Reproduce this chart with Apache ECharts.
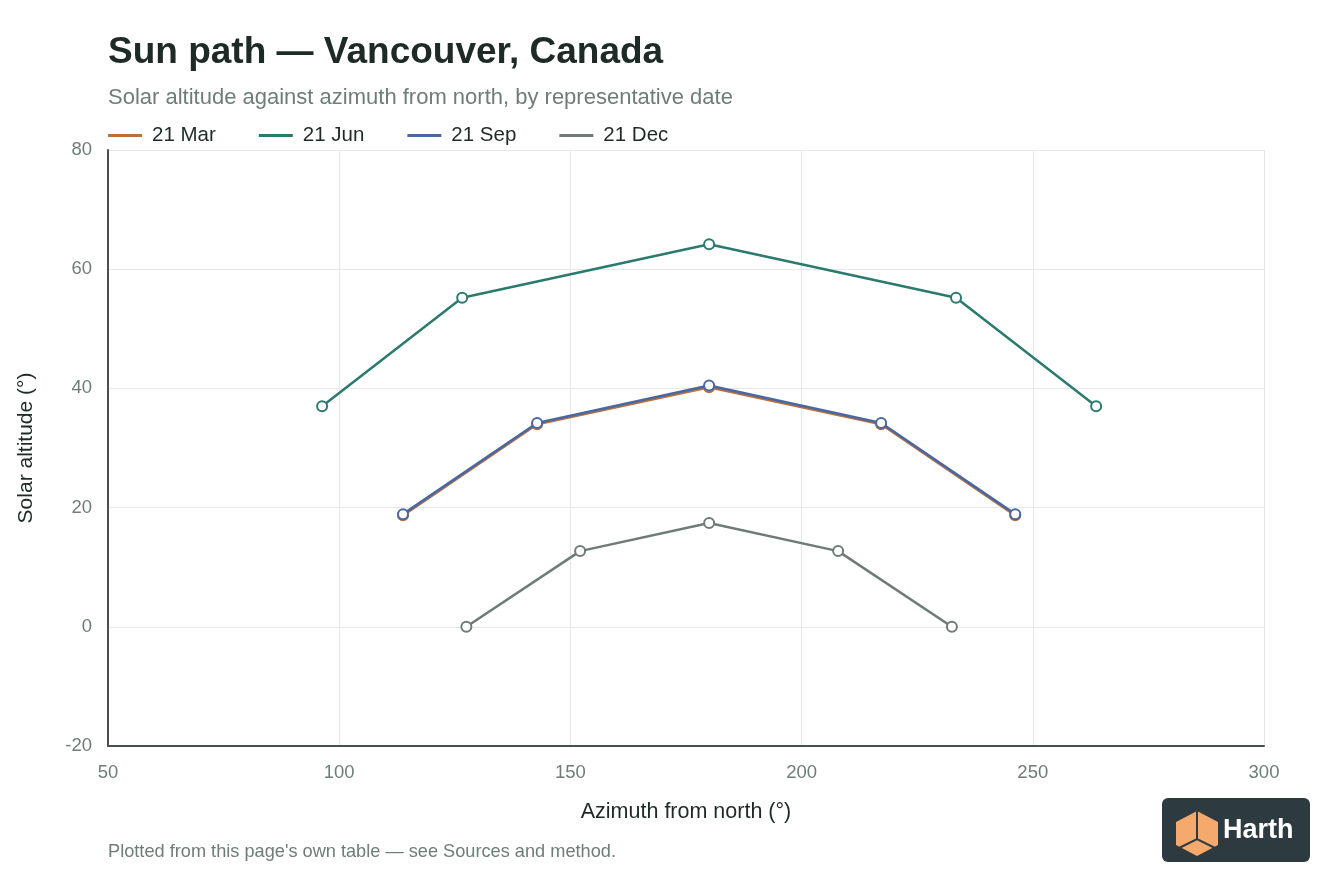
<!DOCTYPE html>
<html>
<head>
  <title>Sun path</title>
  <meta charset="UTF-8">
  <script src="https://cdn.jsdelivr.net/npm/echarts@6/dist/echarts.min.js"></script>
  <style>
    html, body { margin: 0; padding: 0; background: #fff; }
  </style>
</head>
<body>
  <div id="myChart" style="width: 1344px; height: 896px;"></div>

  <script>
    // chart data: azimuth (deg from north) and solar altitude (deg)
    const seriesNames = ['21 Mar', '21 Jun', '21 Sep', '21 Dec'];
    const marAzimuth = [113.8, 142.8, 180, 217.2, 246.2];
    const marAltitude = [18.7, 34.0, 40.2, 34.0, 18.7];
    const junAzimuth = [96.3, 126.6, 180, 233.4, 263.7];
    const junAltitude = [37.0, 55.2, 64.2, 55.2, 37.0];
    const sepAzimuth = [113.8, 142.8, 180, 217.2, 246.2];
    const sepAltitude = [18.9, 34.2, 40.5, 34.2, 18.9];
    const decAzimuth = [127.5, 152.1, 180, 207.9, 232.5];
    const decAltitude = [0.0, 12.7, 17.4, 12.7, 0.0];
    const xTicks = [50, 100, 150, 200, 250, 300];
    const yTicks = [-20, 0, 20, 40, 60, 80];

    const colors = ['#b8703f', '#2b7a6d', '#4a67a1', '#6e7b76'];
    const font = '"Liberation Sans", Arial, sans-serif';

    function pairs(xs, ys) {
      return xs.map((x, i) => [x, ys[i]]);
    }

    const chartData = [
      pairs(marAzimuth, marAltitude),
      pairs(junAzimuth, junAltitude),
      pairs(sepAzimuth, sepAltitude),
      pairs(decAzimuth, decAltitude)
    ];

    const myChart = echarts.init(document.getElementById('myChart'));

    const option = {
      backgroundColor: '#ffffff',
      animation: false,
      color: colors,
      textStyle: { fontFamily: font },
      title: {
        text: 'Sun path — Vancouver, Canada',
        subtext: 'Solar altitude against azimuth from north, by representative date',
        left: 103,
        top: 29,
        itemGap: 16,
        textStyle: { fontSize: 37, fontWeight: 'bold', color: '#1e2a26', fontFamily: font },
        subtextStyle: { fontSize: 22, color: '#6f7d78', fontFamily: font }
      },
      legend: {
        data: seriesNames.map(n => ({ name: n, icon: 'rect' })),
        left: 103,
        top: 120,
        itemWidth: 34,
        itemHeight: 3,
        itemGap: 43,
        textStyle: { fontSize: 20.5, color: '#1e2a26', padding: [0, 0, 0, 5], fontFamily: font }
      },
      grid: { left: 108, right: 80, top: 150, bottom: 150 },
      xAxis: {
        type: 'value',
        min: xTicks[0],
        max: xTicks[xTicks.length - 1],
        interval: 50,
        name: 'Azimuth from north (°)',
        nameLocation: 'middle',
        nameGap: 55,
        nameTextStyle: { fontSize: 21.5, color: '#1e2a26' },
        axisLine: { show: true, onZero: false, lineStyle: { color: '#4a4f4d', width: 2 } },
        axisTick: { show: false },
        axisLabel: { fontSize: 18.5, color: '#6f7d78', margin: 17 },
        splitLine: { show: true, lineStyle: { color: '#e6e8e7', width: 1 } }
      },
      yAxis: {
        type: 'value',
        min: yTicks[0],
        max: yTicks[yTicks.length - 1],
        interval: 20,
        name: 'Solar altitude (°)',
        nameLocation: 'middle',
        nameGap: 71,
        nameTextStyle: { fontSize: 21, color: '#1e2a26' },
        axisLine: { show: true, onZero: false, lineStyle: { color: '#4a4f4d', width: 2 } },
        axisTick: { show: false },
        axisLabel: { fontSize: 18.5, color: '#6f7d78', margin: 16 },
        splitLine: { show: true, lineStyle: { color: '#e6e8e7', width: 1 } }
      },
      series: seriesNames.map((name, i) => ({
        name: name,
        type: 'line',
        data: chartData[i],
        symbol: 'emptyCircle',
        symbolSize: 10,
        lineStyle: { width: 2.5, color: colors[i] },
        itemStyle: { color: colors[i], borderWidth: 2 },
        z: i === 2 ? 4 : 3
      })),
      graphic: [
        {
          type: 'text',
          left: 108,
          top: 843,
          style: {
            text: "Plotted from this page's own table — see Sources and method.",
            fontSize: 18.2,
            fill: '#6f7d78',
            fontFamily: font
          }
        },
        {
          type: 'group',
          left: 1162,
          top: 798,
          children: [
            {
              type: 'rect',
              shape: { x: 0, y: 0, width: 148, height: 64, r: 6 },
              style: { fill: '#2d3a40' }
            },
            {
              type: 'polygon',
              shape: { points: [[35, 13], [56, 24], [56, 47], [35, 58], [14, 47], [14, 24]] },
              style: { fill: '#f5a96c' }
            },
            {
              type: 'polyline',
              shape: { points: [[35, 13], [35, 41]] },
              style: { stroke: '#2d3a40', lineWidth: 2 }
            },
            {
              type: 'polyline',
              shape: { points: [[15, 51], [35, 41], [55, 51]] },
              style: { stroke: '#2d3a40', lineWidth: 2, fill: null }
            },
            {
              type: 'text',
              x: 61,
              y: 19,
              style: {
                text: 'Harth',
                fontSize: 27,
                fontWeight: 'bold',
                fill: '#ffffff',
                fontFamily: font
              }
            }
          ]
        }
      ]
    };

    myChart.setOption(option);
  </script>
</body>
</html>
